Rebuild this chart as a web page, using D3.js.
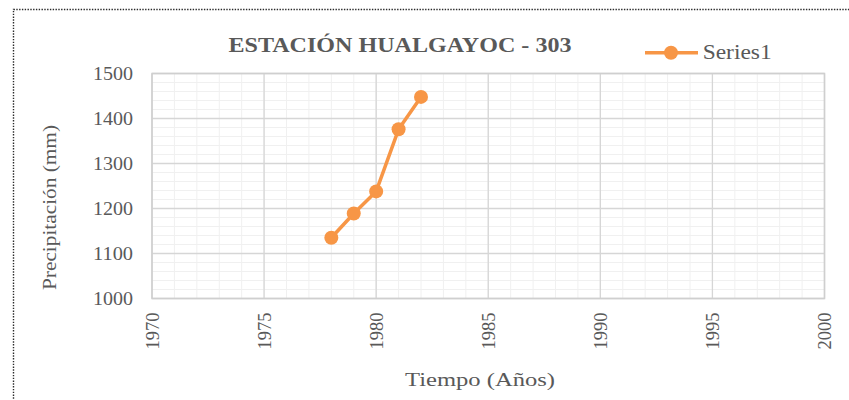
<!DOCTYPE html>
<html>
<head>
<meta charset="utf-8">
<script src="https://cdn.jsdelivr.net/npm/d3@7"></script>
<style>
  body { margin: 0; background: #fff; }
  svg text { font-family: "Liberation Serif", "Times New Roman", Times, serif; fill: #595959; }
</style>
</head>
<body>
<div id="chart"></div>
<script>
// data
var years = [1978, 1979, 1980, 1981, 1982];
var precip = [1135, 1189, 1238, 1376, 1448];
var xTicks = [1970, 1975, 1980, 1985, 1990, 1995, 2000];
var yTicks = [1000, 1100, 1200, 1300, 1400, 1500];
var seriesName = "Series1";
var titleText = "ESTACIÓN HUALGAYOC - 303";

var width = 849, height = 400;
var orange = "#f79646";
var serif = "'Liberation Serif', 'Times New Roman', Times, serif";

var svg = d3.select("#chart").append("svg")
  .attr("width", width)
  .attr("height", height);

// dotted frame of the chart object
svg.append("rect")
  .attr("x", 13.5).attr("y", 9.5)
  .attr("width", 900).attr("height", 500)
  .attr("fill", "none")
  .attr("stroke", "#2a2a2a")
  .attr("stroke-width", 1.4)
  .attr("stroke-dasharray", "1.4,1.4");

var x = d3.scaleLinear().domain([1970, 2000]).range([152, 824.5]);
var y = d3.scaleLinear().domain([1000, 1500]).range([298.5, 73.5]);

// minor grid
var g = svg.append("g");
g.selectAll(".vminor").data(d3.range(1970, 2001, 1)).enter().append("line")
  .attr("x1", d => x(d)).attr("x2", d => x(d))
  .attr("y1", y(1000)).attr("y2", y(1500))
  .attr("stroke", "#f0f0f0").attr("stroke-width", 1);
g.selectAll(".hminor").data(d3.range(1000, 1501, 20)).enter().append("line")
  .attr("x1", x(1970)).attr("x2", x(2000))
  .attr("y1", d => y(d)).attr("y2", d => y(d))
  .attr("stroke", "#f0f0f0").attr("stroke-width", 1);

// major grid
g.selectAll(".vmajor").data(xTicks).enter().append("line")
  .attr("x1", d => x(d)).attr("x2", d => x(d))
  .attr("y1", y(1000)).attr("y2", y(1500))
  .attr("stroke", "#d6d6d6").attr("stroke-width", 1.3);
g.selectAll(".hmajor").data(yTicks).enter().append("line")
  .attr("x1", x(1970)).attr("x2", x(2000))
  .attr("y1", d => y(d)).attr("y2", d => y(d))
  .attr("stroke", "#d6d6d6").attr("stroke-width", 1.3);

// plot frame
svg.append("rect")
  .attr("x", x(1970)).attr("y", y(1500))
  .attr("width", x(2000) - x(1970)).attr("height", y(1000) - y(1500))
  .attr("fill", "none").attr("stroke", "#cfcfcf").attr("stroke-width", 1.5);

// y axis labels
var yAxis = svg.append("g")
  .attr("transform", "translate(" + x(1970) + ",0)")
  .attr("font-family", serif)
  .call(d3.axisLeft(y).tickValues(yTicks).tickFormat(d3.format("d")).tickSize(0).tickPadding(19));
yAxis.attr("font-family", serif);
yAxis.select(".domain").remove();
yAxis.selectAll("text")
  .attr("fill", "#595959")
  .style("font-size", "18px")
  .attr("dy", "0.32em")
  .attr("textLength", 40)
  .attr("lengthAdjust", "spacingAndGlyphs");

// x axis labels, rotated
var xAxis = svg.append("g")
  .attr("transform", "translate(0," + y(1000) + ")")
  .call(d3.axisBottom(x).tickValues(xTicks).tickFormat(d3.format("d")).tickSize(0));
xAxis.attr("font-family", serif);
xAxis.select(".domain").remove();
xAxis.selectAll("text")
  .attr("fill", "#595959")
  .style("font-size", "18px")
  .attr("text-anchor", "end")
  .attr("transform", "rotate(-90)")
  .attr("x", -14)
  .attr("y", 0)
  .attr("dy", "0.35em")
  .attr("textLength", 37)
  .attr("lengthAdjust", "spacingAndGlyphs");

// series
var line = d3.line()
  .x((d, i) => x(years[i]))
  .y(d => y(d));

svg.append("path")
  .datum(precip)
  .attr("d", line)
  .attr("fill", "none")
  .attr("stroke", orange)
  .attr("stroke-width", 3.5)
  .attr("stroke-linejoin", "round");

svg.selectAll(".pt").data(precip).enter().append("circle")
  .attr("cx", (d, i) => x(years[i]))
  .attr("cy", d => y(d))
  .attr("r", 7)
  .attr("fill", orange);

// title
svg.append("text")
  .attr("x", 400).attr("y", 51.7)
  .attr("text-anchor", "middle")
  .style("font-size", "22px")
  .style("font-weight", "bold")
  .attr("textLength", 343)
  .attr("lengthAdjust", "spacingAndGlyphs")
  .text(titleText);

// legend
var leg = svg.append("g");
leg.append("line")
  .attr("x1", 645).attr("x2", 698).attr("y1", 52.7).attr("y2", 52.7)
  .attr("stroke", orange).attr("stroke-width", 3.5);
leg.append("circle")
  .attr("cx", 671).attr("cy", 52.7).attr("r", 7)
  .attr("fill", orange);
leg.append("text")
  .attr("x", 702.7).attr("y", 59.3)
  .style("font-size", "21px")
  .attr("textLength", 69)
  .attr("lengthAdjust", "spacingAndGlyphs")
  .text(seriesName);

// axis titles
svg.append("text")
  .attr("transform", "translate(56,207.5) rotate(-90)")
  .attr("text-anchor", "middle")
  .style("font-size", "19px")
  .attr("textLength", 165)
  .attr("lengthAdjust", "spacingAndGlyphs")
  .text("Precipitación (mm)");

svg.append("text")
  .attr("x", 480).attr("y", 386)
  .attr("text-anchor", "middle")
  .style("font-size", "19px")
  .attr("textLength", 150)
  .attr("lengthAdjust", "spacingAndGlyphs")
  .text("Tiempo (Años)");
</script>
</body>
</html>
